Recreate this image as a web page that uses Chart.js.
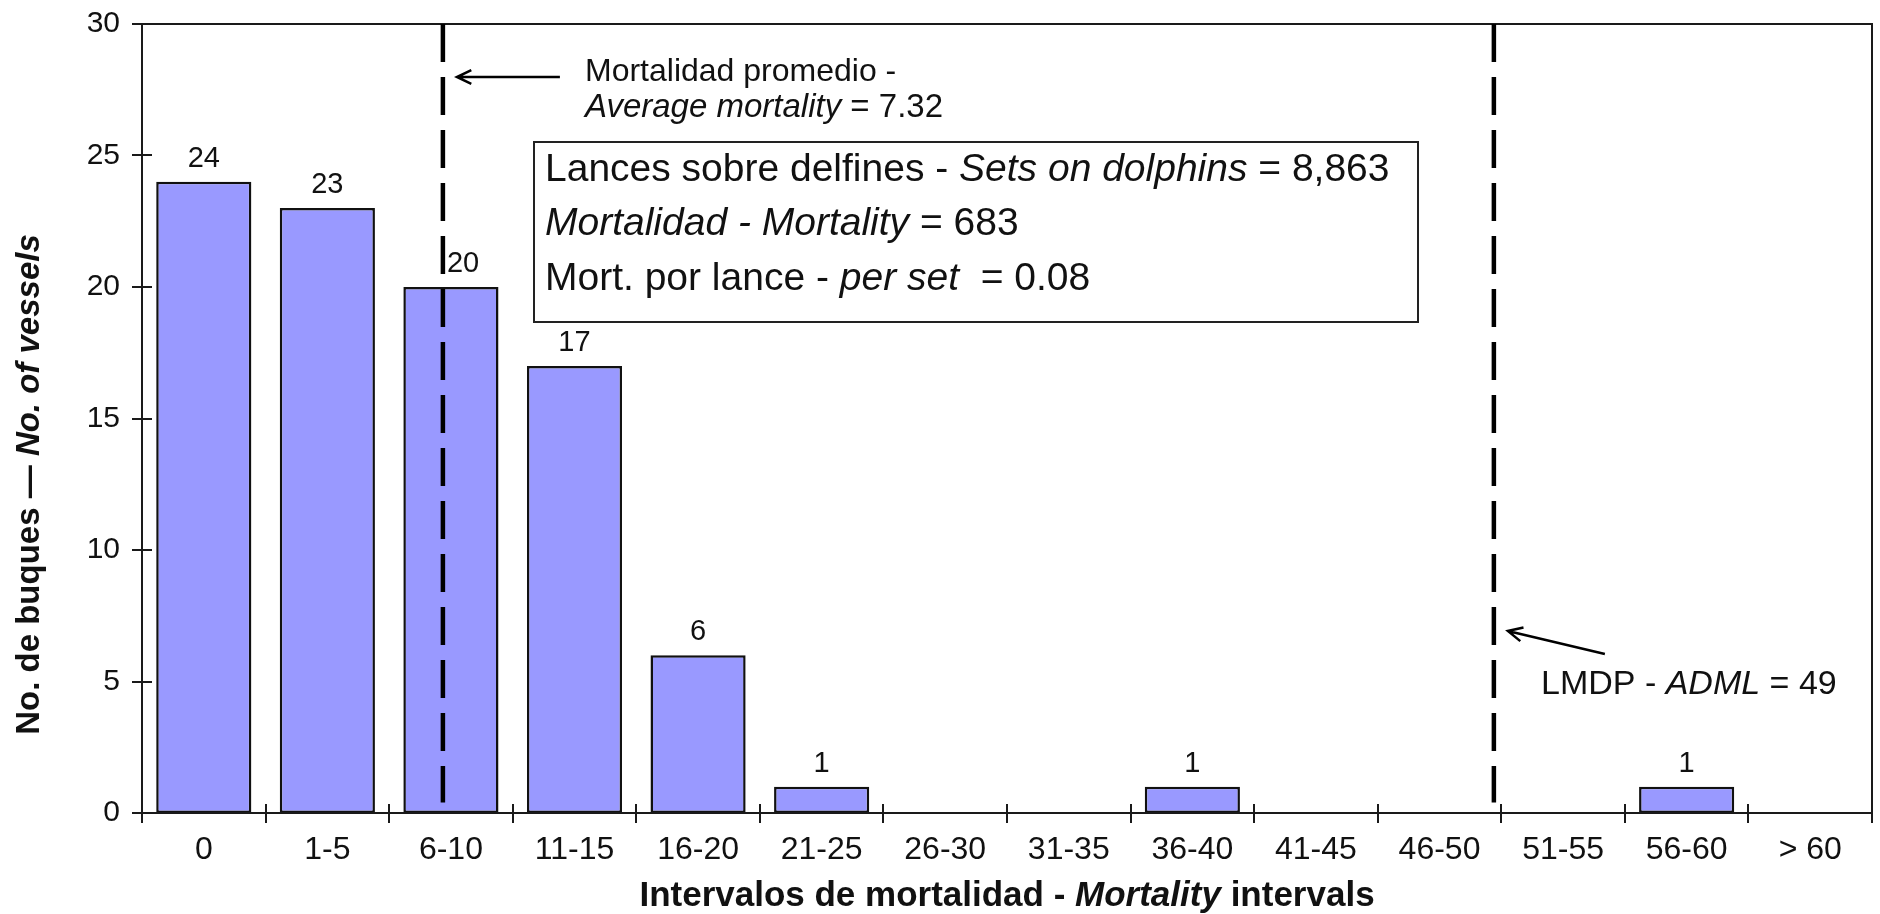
<!DOCTYPE html>
<html>
<head>
<meta charset="utf-8">
<title>Mortalidad por buque</title>
<script src="https://cdn.jsdelivr.net/npm/chart.js@4.4.1/dist/chart.umd.min.js"></script>
<style>
    html, body { margin: 0; padding: 0; background: #fff; }
    #wrap { position: relative; width: 1880px; height: 914px; }
</style>
</head>
<body>
<div id="wrap"><canvas id="chart"></canvas></div>
<script>
/*global Chart*/
var intervals = ['0', '1-5', '6-10', '11-15', '16-20', '21-25', '26-30', '31-35',
    '36-40', '41-45', '46-50', '51-55', '56-60', '> 60'];
var vessels = [24, 23, 20, 17, 6, 1, 0, 0, 1, 0, 0, 0, 1, 0];
var yTickValues = [0, 5, 10, 15, 20, 25, 30];

// where the two dashed reference lines sit, in category units (0 = first bar)
var averageMortality = 7.32;
var averageLinePos = 1.935;
var admlLimit = 49;
var admlLinePos = 10.44;

var setsOnDolphins = '8,863';
var totalMortality = 683;
var mortalityPerSet = '0.08';

(function (Chart) {
    "use strict";

    var FAMILY = '"Liberation Sans", Arial, Helvetica, sans-serif';

    var font = function (size, style) {
        return (style || '') + ' ' + size + 'px ' + FAMILY;
    };

    var runsWidth = function (ctx, runs) {
        var w = 0, i;
        for (i = 0; i < runs.length; i++) {
            ctx.font = runs[i][1];
            w += ctx.measureText(runs[i][0]).width;
        }
        return w;
    };

    var drawRuns = function (ctx, x, y, runs) {
        var i;
        for (i = 0; i < runs.length; i++) {
            ctx.font = runs[i][1];
            ctx.fillText(runs[i][0], x, y);
            x += ctx.measureText(runs[i][0]).width;
        }
    };

    var arrow = function (ctx, fromX, fromY, toX, toY) {
        var ang = Math.atan2(toY - fromY, toX - fromX), head = 16;
        ctx.beginPath();
        ctx.moveTo(fromX, fromY);
        ctx.lineTo(toX, toY);
        ctx.moveTo(toX - head * Math.cos(ang - 0.45), toY - head * Math.sin(ang - 0.45));
        ctx.lineTo(toX, toY);
        ctx.lineTo(toX - head * Math.cos(ang + 0.45), toY - head * Math.sin(ang + 0.45));
        ctx.stroke();
    };

    var decorations = {
        id: 'decorations',
        afterDatasetsDraw: function (chart) {
            var ctx = chart.ctx,
                area = chart.chartArea,
                xs = chart.scales.x,
                ys = chart.scales.y,
                meta = chart.getDatasetMeta(0),
                i, px, py, x1, x2;

            x1 = xs.getPixelForValue(averageLinePos);
            x2 = xs.getPixelForValue(admlLinePos);

            ctx.save();
            ctx.strokeStyle = '#1a1a1a';
            ctx.fillStyle = '#111';

            // frame
            ctx.lineWidth = 2;
            ctx.strokeRect(area.left, area.top, area.right - area.left, area.bottom - area.top);

            // ticks crossing the axes
            for (i = 0; i < yTickValues.length; i++) {
                py = Math.round(ys.getPixelForValue(yTickValues[i]));
                ctx.beginPath();
                ctx.moveTo(area.left - 10, py);
                ctx.lineTo(area.left + 10, py);
                ctx.stroke();
            }
            for (i = 0; i <= intervals.length; i++) {
                px = Math.round(xs.getPixelForValue(i - 0.5));
                ctx.beginPath();
                ctx.moveTo(px, area.bottom - 9);
                ctx.lineTo(px, area.bottom + 10);
                ctx.stroke();
            }

            // value labels (moved off the dashed line when they would sit on it)
            ctx.font = font(29);
            ctx.textBaseline = 'alphabetic';
            for (i = 0; i < vessels.length; i++) {
                if (vessels[i] > 0) {
                    px = meta.data[i].x;
                    if (Math.abs(px - x1) < 20) {
                        ctx.textAlign = 'left';
                        px = x1 + 4;
                    } else {
                        ctx.textAlign = 'center';
                    }
                    ctx.fillText(String(vessels[i]), px, meta.data[i].y - 15);
                }
            }

            // dashed reference lines
            ctx.lineWidth = 4.5;
            ctx.strokeStyle = '#000';
            ctx.setLineDash([38, 15]);
            ctx.beginPath();
            ctx.moveTo(x1, area.top);
            ctx.lineTo(x1, ys.getPixelForValue(0.4));
            ctx.moveTo(x2, area.top);
            ctx.lineTo(x2, ys.getPixelForValue(0.4));
            ctx.stroke();
            ctx.setLineDash([]);

            // arrows
            ctx.lineWidth = 2.5;
            arrow(ctx, x1 + 117, 77, x1 + 14, 77);
            arrow(ctx, x2 + 111, 654, x2 + 14, 631);

            // annotations
            ctx.textAlign = 'left';
            drawRuns(ctx, 585, 81, [['Mortalidad promedio -', font(32)]]);
            drawRuns(ctx, 585, 117, [['Average mortality', font(33, 'italic')],
                [' = ' + averageMortality.toFixed(2), font(33)]]);
            drawRuns(ctx, 1541, 694, [['LMDP - ', font(34)], ['ADML', font(34, 'italic')],
                [' = ' + admlLimit, font(34)]]);

            // summary box
            ctx.lineWidth = 2;
            ctx.strokeStyle = '#222';
            ctx.fillStyle = '#fff';
            ctx.fillRect(534, 142, 884, 180);
            ctx.strokeRect(534, 142, 884, 180);
            ctx.fillStyle = '#111';
            drawRuns(ctx, 545, 181, [['Lances sobre delfines - ', font(39)],
                ['Sets on dolphins', font(39, 'italic')], [' = ' + setsOnDolphins, font(39)]]);
            drawRuns(ctx, 545, 235, [['Mortalidad - Mortality', font(39, 'italic')],
                [' = ' + totalMortality, font(39)]]);
            drawRuns(ctx, 545, 290, [['Mort. por lance - ', font(39)],
                ['per set', font(39, 'italic')], ['  = ' + mortalityPerSet, font(39)]]);

            // axis titles
            var xRuns = [['Intervalos de mortalidad - ', font(35, 'bold')],
                    ['Mortality', font(35, 'italic bold')], [' intervals', font(35, 'bold')]],
                yRuns = [['No. de buques \u2014 ', font(33, 'bold')],
                    ['No. of vessels', font(33, 'italic bold')]],
                w;

            w = runsWidth(ctx, xRuns);
            drawRuns(ctx, (area.left + area.right) / 2 - w / 2, 906, xRuns);

            ctx.translate(30, (area.top + area.bottom) / 2 + 66);
            ctx.rotate(-Math.PI / 2);
            ctx.textBaseline = 'middle';
            w = runsWidth(ctx, yRuns);
            drawRuns(ctx, -w / 2, 0, yRuns);

            ctx.restore();
        }
    };

    var init = function () {
        var ctx = window.document.getElementById('chart');

        return new Chart(ctx, {
            type: 'bar',
            data: {
                labels: intervals,
                datasets: [{
                    label: 'No. de buques',
                    data: vessels,
                    backgroundColor: '#9999ff',
                    borderColor: '#111',
                    borderWidth: 2.5,
                    borderSkipped: false,
                    categoryPercentage: 1,
                    barPercentage: 0.77
                }]
            },
            options: {
                responsive: true,
                maintainAspectRatio: false,
                animation: false,
                layout: {
                    padding: {left: 0, top: 24, right: 8, bottom: 0}
                },
                plugins: {
                    legend: {display: false},
                    tooltip: {enabled: false}
                },
                scales: {
                    x: {
                        offset: true,
                        grid: {display: false},
                        border: {display: false},
                        ticks: {
                            color: '#111',
                            font: {family: FAMILY, size: 32},
                            padding: 10,
                            maxRotation: 0,
                            autoSkip: false
                        },
                        afterFit: function (scale) {
                            scale.height = 101;
                            scale.paddingLeft = 0;
                            scale.paddingRight = 0;
                        }
                    },
                    y: {
                        min: 0,
                        max: 30,
                        grid: {display: false},
                        border: {display: false},
                        ticks: {
                            stepSize: 5,
                            color: '#111',
                            font: {family: FAMILY, size: 30},
                            padding: 14
                        },
                        afterFit: function (scale) {
                            scale.width = 142;
                            scale.paddingTop = 0;
                            scale.paddingBottom = 0;
                        }
                    }
                }
            },
            plugins: [decorations]
        });
    };

    init();
}(Chart));
</script>
</body>
</html>
